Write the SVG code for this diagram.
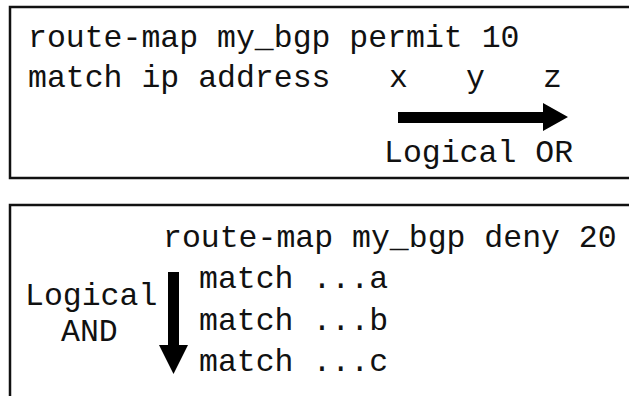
<svg xmlns="http://www.w3.org/2000/svg" width="629" height="396" viewBox="0 0 629 396">
  <style>
    .frame { fill: none; stroke: #111; stroke-width: 2.5; }
    .code { font-family: "Liberation Mono", "Courier New", monospace; font-size: 31.5px; fill: #111; }
    .arrow { fill: #000; }
  </style>
  <rect width="629" height="396" fill="#fff"/>

  <!-- permit 10 clause: match conditions combined with OR -->
  <g id="permit-10">
    <rect class="frame" x="10" y="7" width="640" height="171"/>
    <text class="code" x="28" y="47">route-map my_bgp permit 10</text>
    <text class="code" x="28" y="87">match ip address</text>
    <text class="code" x="389" y="87">x</text>
    <text class="code" x="466" y="87">y</text>
    <text class="code" x="543" y="87">z</text>
    <text class="code" x="384" y="162">Logical OR</text>
  </g>

  <!-- deny 20 clause: match statements combined with AND -->
  <g id="deny-20">
    <path class="frame" d="M10,400 V205 H640"/>
    <text class="code" x="163" y="247">route-map my_bgp deny 20</text>
    <text class="code" x="199" y="288">match ...a</text>
    <text class="code" x="199" y="330">match ...b</text>
    <text class="code" x="199" y="371">match ...c</text>
    <text class="code" x="25" y="305">Logical</text>
    <text class="code" x="61" y="341">AND</text>
  </g>

  <g id="connectors">
    <!-- OR direction -->
    <path class="arrow" d="M398,112 H543 V103 L568,117 L543,131 V123 H398 Z"/>
    <!-- AND direction -->
    <path class="arrow" d="M168,272 H179 V345 H188 L173.5,374 L159,345 H168 Z"/>
  </g>
</svg>
